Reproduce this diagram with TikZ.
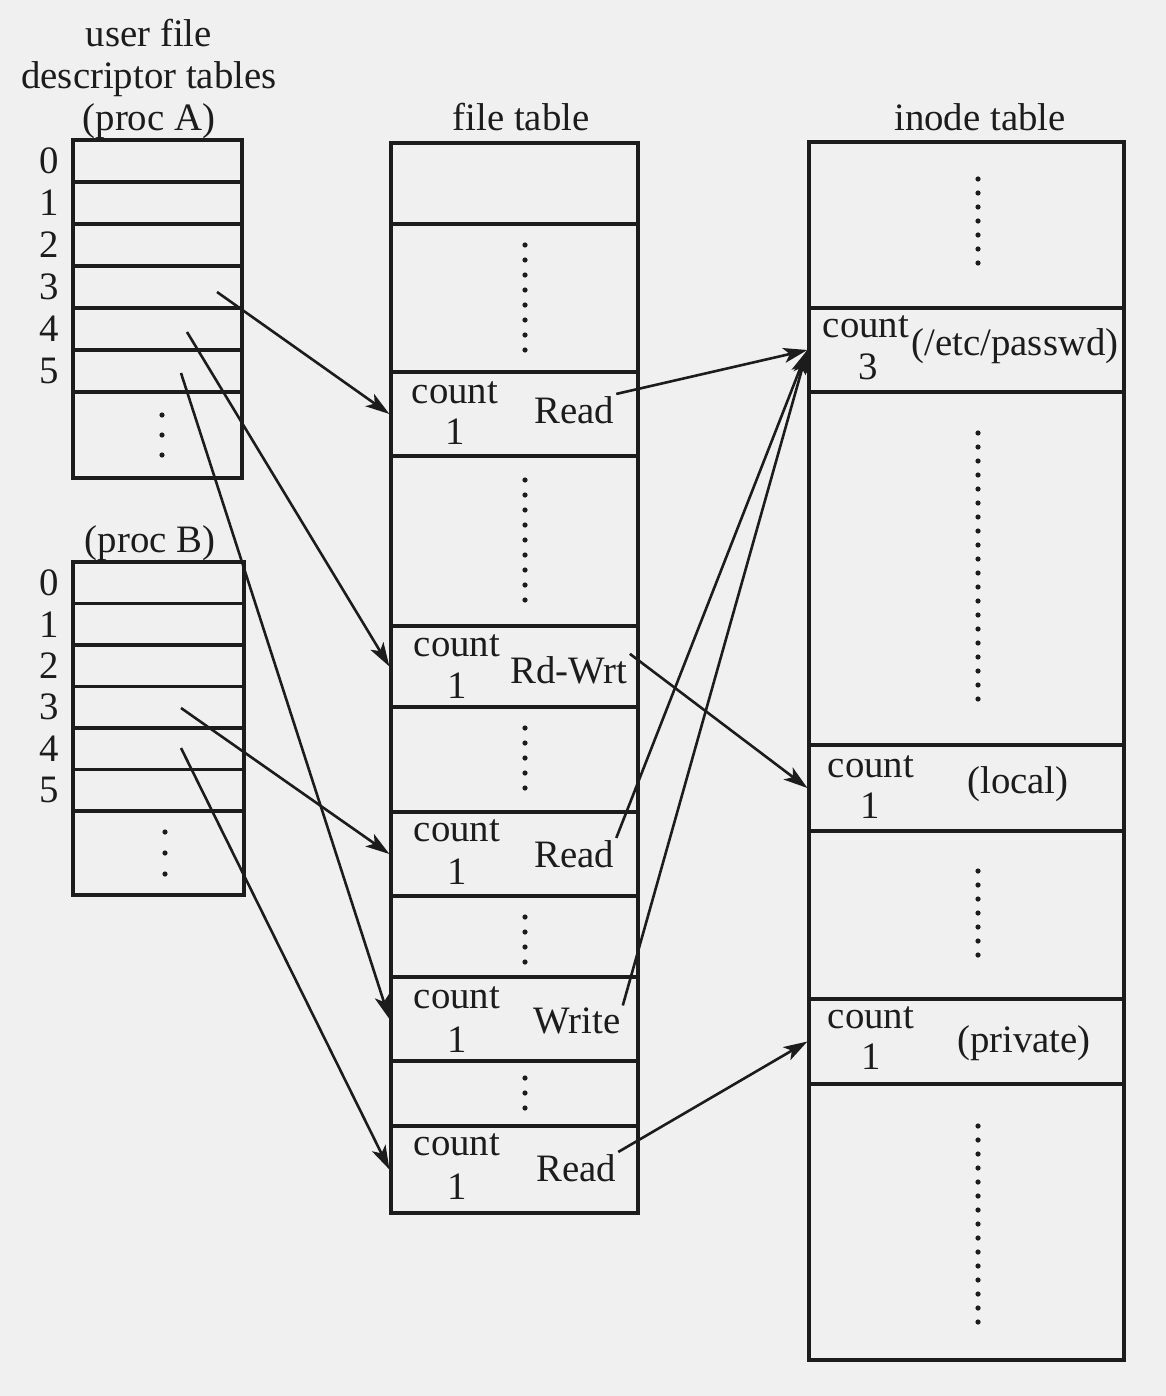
\documentclass[tikz,border=0pt]{standalone}
\usepackage{fontspec}
\setmainfont{Liberation Serif}
\usetikzlibrary{arrows.meta,positioning}
\definecolor{paper}{RGB}{240,240,240}
\definecolor{ink}{RGB}{28,28,28}

\begin{document}
\begin{tikzpicture}[x=0.5pt, y=-0.5pt, font=\fontsize{19.4}{21}\selectfont, text=ink]
				\tikzstyle{cell}=[draw=ink, line width=1.6pt, inner sep=0pt]
				\tikzstyle{fdcell}=[cell, minimum width=84.5pt, minimum height=21pt]
				\tikzstyle{fdcellb}=[cell, minimum width=85.5pt, minimum height=20.75pt]
				\tikzstyle{frow}=[cell, minimum width=123.5pt]
				\tikzstyle{irow}=[cell, minimum width=157.5pt]
				\tikzstyle{txt}=[inner sep=1pt]
				\tikzstyle{ptr}=[-{Stealth[length=12pt,width=7.5pt,inset=3pt]}, line width=1.3pt, draw=ink]
				\tikzstyle{dotcol}=[line width=2.6pt, line cap=round, draw=ink]
				
				\useasboundingbox[fill=paper] (0,0) rectangle (1166,1396);
				
				% user file descriptor tables
				\node[txt, align=center] (A-title) at (149,79) {user file\\descriptor tables\\(proc A)};
				\node[fdcell] (A-0) at (157.5,161) {};
				\node[fdcell] (A-1) at (157.5,203) {};
				\node[fdcell] (A-2) at (157.5,245) {};
				\node[fdcell] (A-3) at (157.5,287) {};
				\node[fdcell] (A-4) at (157.5,329) {};
				\node[fdcell] (A-5) at (157.5,371) {};
				\node[cell, minimum width=84.5pt, minimum height=43pt] (A-6) at (157.5,435) {};
				\node[txt, left=5pt of A-0] (A-0-no) {0};
				\node[txt, left=5pt of A-1] (A-1-no) {1};
				\node[txt, left=5pt of A-2] (A-2-no) {2};
				\node[txt, left=5pt of A-3] (A-3-no) {3};
				\node[txt, left=5pt of A-4] (A-4-no) {4};
				\node[txt, left=5pt of A-5] (A-5-no) {5};
				\draw[dotcol, dash pattern=on 0pt off 10pt] (162,415) -- (162,456);
				
				\node[txt] (B-title) at (150,543) {(proc B)};
				\node[fdcellb] (B-0) at (158.5,582.75) {};
				\node[fdcellb] (B-1) at (158.5,624.25) {};
				\node[fdcellb] (B-2) at (158.5,665.75) {};
				\node[fdcellb] (B-3) at (158.5,707.25) {};
				\node[fdcellb] (B-4) at (158.5,748.75) {};
				\node[fdcellb] (B-5) at (158.5,790.25) {};
				\node[cell, minimum width=85.5pt, minimum height=42pt] (B-6) at (158.5,853) {};
				\node[txt, left=5pt of B-0] (B-0-no) {0};
				\node[txt, left=5pt of B-1] (B-1-no) {1};
				\node[txt, left=5pt of B-2] (B-2-no) {2};
				\node[txt, left=5pt of B-3] (B-3-no) {3};
				\node[txt, left=5pt of B-4] (B-4-no) {4};
				\node[txt, left=5pt of B-5] (B-5-no) {5};
				\draw[dotcol, dash pattern=on 0pt off 10.5pt] (165,832) -- (165,875);
				
				% file table
				\node[txt] (F-title) at (521,117) {file table};
				\node[frow, minimum height=40.5pt] (F-0) at (514.5,183.5) {};
				\node[frow, minimum height=74pt] (F-1) at (514.5,298) {};
				\node[frow, minimum height=42pt] (F-2) at (514.5,414) {};
				\node[frow, minimum height=85pt] (F-3) at (514.5,541) {};
				\node[frow, minimum height=40.5pt] (F-4) at (514.5,666.5) {};
				\node[frow, minimum height=52.5pt] (F-5) at (514.5,759.5) {};
				\node[frow, minimum height=42pt] (F-6) at (514.5,854) {};
				\node[frow, minimum height=40.5pt] (F-7) at (514.5,936.5) {};
				\node[frow, minimum height=42pt] (F-8) at (514.5,1019) {};
				\node[frow, minimum height=32.5pt] (F-9) at (514.5,1093.5) {};
				\node[frow, minimum height=43.5pt] (F-10) at (514.5,1169.5) {};
				
				\node[txt] (F-2-cnt) at (455,393) {count};
				\node[txt] (F-2-num) at (455,432) {1};
				\node[txt] (F-2-mode) at (574,410) {Read};
				\node[txt] (F-4-cnt) at (457,646) {count};
				\node[txt] (F-4-num) at (457,686) {1};
				\node[txt] (F-4-mode) at (569,670) {Rd-Wrt};
				\node[txt] (F-6-cnt) at (457,831) {count};
				\node[txt] (F-6-num) at (457,872) {1};
				\node[txt] (F-6-mode) at (574,854) {Read};
				\node[txt] (F-8-cnt) at (457,998) {count};
				\node[txt] (F-8-num) at (457,1040) {1};
				\node[txt] (F-8-mode) at (577,1021) {Write};
				\node[txt] (F-10-cnt) at (457,1145) {count};
				\node[txt] (F-10-num) at (457,1187) {1};
				\node[txt] (F-10-mode) at (576,1168) {Read};
				
				\draw[dotcol, dash pattern=on 0pt off 7.5pt] (525,245) -- (525,351);
				\draw[dotcol, dash pattern=on 0pt off 7.5pt] (525,480) -- (525,601);
				\draw[dotcol, dash pattern=on 0pt off 7.5pt] (525,728) -- (525,789);
				\draw[dotcol, dash pattern=on 0pt off 7.5pt] (525,917) -- (525,963);
				\draw[dotcol, dash pattern=on 0pt off 7.5pt] (525,1078) -- (525,1109);
				
				% inode table
				\node[txt] (I-title) at (980,117) {inode table};
				\node[irow, minimum height=83pt] (I-0) at (966.5,225) {};
				\node[irow, minimum height=42pt] (I-1) at (966.5,350) {};
				\node[irow, minimum height=176.5pt] (I-2) at (966.5,568.5) {};
				\node[irow, minimum height=43pt] (I-3) at (966.5,788) {};
				\node[irow, minimum height=84pt] (I-4) at (966.5,915) {};
				\node[irow, minimum height=42.5pt] (I-5) at (966.5,1041.5) {};
				\node[irow, minimum height=138pt] (I-6) at (966.5,1222) {};
				
				\node[txt] (I-1-cnt) at (866,327) {count};
				\node[txt] (I-1-num) at (868,367) {3};
				\node[txt] (I-1-name) at (1015,346) {(/etc/passwd)};
				\node[txt] (I-3-cnt) at (871,767) {count};
				\node[txt] (I-3-num) at (870,806) {1};
				\node[txt] (I-3-name) at (1018,784) {(local)};
				\node[txt] (I-5-cnt) at (871,1018) {count};
				\node[txt] (I-5-num) at (871,1057) {1};
				\node[txt] (I-5-name) at (1024,1043) {(private)};
				
				\draw[dotcol, dash pattern=on 0pt off 7pt] (978,179) -- (978,264);
				\draw[dotcol, dash pattern=on 0pt off 7pt] (978,433) -- (978,700);
				\draw[dotcol, dash pattern=on 0pt off 7pt] (978,871) -- (978,956);
				\draw[dotcol, dash pattern=on 0pt off 7pt] (978,1126) -- (978,1323);
				
				% pointers
				\coordinate (A-3-p) at (217,292);
				\coordinate (A-4-p) at (187,332);
				\coordinate (A-5-p) at (181,373);
				\coordinate (B-3-p) at (181,708);
				\coordinate (B-4-p) at (181,748);
				
				\draw[ptr] (A-3-p) -- (F-2.west);
				\draw[ptr] (A-4-p) -- (F-4.west);
				\draw[ptr] (A-5-p) -- (F-8.west);
				\draw[ptr] (B-3-p) -- (F-6.west);
				\draw[ptr] (B-4-p) -- (F-10.west);
				
				\draw[ptr] (F-2-mode.north east) -- (I-1.west);
				\draw[ptr] (F-4-mode.north east) -- (I-3.west);
				\draw[ptr] (F-6-mode.north east) -- (I-1.west);
				\draw[ptr] (F-8-mode.north east) -- (I-1.west);
				\draw[ptr] (F-10-mode.north east) -- (I-5.west);
\end{tikzpicture}
\end{document}
